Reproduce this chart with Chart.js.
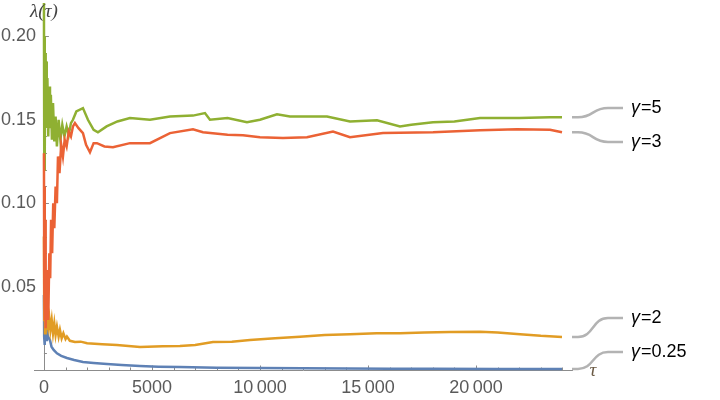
<!DOCTYPE html>
<html>
<head>
<meta charset="utf-8">
<script src="https://cdn.jsdelivr.net/npm/chart.js@4/dist/chart.umd.min.js"></script>
<style>
  html, body { margin: 0; padding: 0; background: #fff; }
  #wrap { width: 720px; height: 400px; position: relative; }
</style>
</head>
<body>
<div id="wrap"><canvas id="chart" width="720" height="400"></canvas></div>
<script>
// Series (tau, lambda)
const tauG5 = [0, 15, 30, 45, 60, 80, 100, 130, 160, 200, 240, 280, 320, 370, 420, 480, 540, 600, 680, 760, 850, 950, 1050, 1150, 1250, 1343, 1500, 1806, 2037, 2300, 2500, 2900, 3400, 3981, 4907, 5833, 6898, 7454, 7685, 8500, 9398, 10000, 10787, 11389, 12500, 13102, 14167, 15417, 16481, 17000, 18009, 19000, 20185, 22000, 23426, 23981];
const valG5 = [0.22, 0.12, 0.20, 0.13, 0.19, 0.15, 0.185, 0.145, 0.175, 0.14, 0.17, 0.145, 0.165, 0.138, 0.16, 0.137, 0.152, 0.134, 0.15, 0.138, 0.147, 0.14, 0.146, 0.141, 0.148, 0.150, 0.155, 0.157, 0.150, 0.144, 0.1425, 0.146, 0.149, 0.151, 0.150, 0.152, 0.1525, 0.154, 0.150, 0.151, 0.1485, 0.150, 0.1533, 0.152, 0.152, 0.152, 0.149, 0.1497, 0.146, 0.147, 0.1485, 0.149, 0.151, 0.151, 0.1515, 0.1515];

const tauG3 = [0, 15, 30, 45, 60, 80, 100, 130, 160, 200, 250, 290, 330, 380, 430, 480, 540, 600, 650, 720, 800, 880, 960, 1050, 1150, 1250, 1343, 1435, 1600, 1806, 1950, 2130, 2300, 2454, 2800, 3194, 3981, 4907, 5833, 6898, 7361, 8500, 9213, 10000, 11065, 12176, 13380, 14167, 15694, 18009, 20185, 21898, 23426, 23981];
const valG3 = [0.13, 0.05, 0.11, 0.03, 0.09, 0.025, 0.06, 0.035, 0.045, 0.03, 0.07, 0.055, 0.09, 0.07, 0.10, 0.085, 0.11, 0.10, 0.128, 0.118, 0.135, 0.128, 0.138, 0.134, 0.143, 0.14, 0.146, 0.148, 0.145, 0.142, 0.135, 0.1305, 0.136, 0.136, 0.134, 0.1335, 0.136, 0.136, 0.142, 0.1443, 0.1425, 0.141, 0.1407, 0.1395, 0.139, 0.1395, 0.143, 0.1395, 0.142, 0.1425, 0.1437, 0.1443, 0.144, 0.1425];

const tauG2 = [0, 15, 30, 50, 80, 110, 150, 200, 250, 300, 360, 420, 480, 540, 602, 680, 741, 820, 900, 1000, 1065, 1200, 1435, 1700, 2000, 2700, 3380, 4444, 5500, 6296, 7000, 7824, 8700, 9537, 10700, 11852, 13000, 14167, 15400, 16481, 17600, 18796, 20185, 21000, 22037, 23000, 23981];
const valG2 = [0.08, 0.03, 0.05, 0.022, 0.035, 0.024, 0.031, 0.026, 0.031, 0.024, 0.03, 0.022, 0.028, 0.021, 0.026, 0.02, 0.024, 0.019, 0.022, 0.0185, 0.02, 0.0175, 0.0168, 0.017, 0.016, 0.0155, 0.015, 0.0138, 0.0142, 0.0144, 0.015, 0.0168, 0.017, 0.018, 0.019, 0.020, 0.021, 0.0215, 0.022, 0.022, 0.0225, 0.0228, 0.023, 0.0225, 0.0215, 0.0205, 0.0198];

const tauG025 = [0, 10, 25, 45, 70, 100, 140, 190, 278, 350, 450, 602, 800, 1065, 1400, 1806, 2300, 2917, 3600, 4444, 5300, 6296, 8000, 10000, 12000, 14000, 16000, 18000, 21000, 23981];
const valG025 = [0.045, 0.02, 0.035, 0.015, 0.03, 0.018, 0.025, 0.02, 0.018, 0.014, 0.012, 0.010, 0.0085, 0.0072, 0.006, 0.0048, 0.0042, 0.0036, 0.003, 0.0024, 0.002, 0.0018, 0.0014, 0.0012, 0.001, 0.0009, 0.0008, 0.0007, 0.00065, 0.0006];

const xTicks = [0, 5000, 10000, 15000, 20000];
const xTickLabels = ["0", "5000", "10\u2009000", "15\u2009000", "20\u2009000"];
const yTicks = [0.05, 0.10, 0.15, 0.20];
const yTickLabels = ["0.05", "0.10", "0.15", "0.20"];
const seriesLabels = ["5", "3", "2", "0.25"];

function pts(t, v) {
    return t.map((x, i) => ({ x: x, y: v[i] }));
}

// Mathematica-style axes crossing at origin, plus callout labels
const axesPlugin = {
    id: "axes",
    beforeDatasetsDraw(chart) {
        const ctx = chart.ctx;
        const xs = chart.scales.x, ys = chart.scales.y;
        const x0 = xs.getPixelForValue(0), y0 = ys.getPixelForValue(0);
        ctx.save();
        ctx.strokeStyle = "#8c8c8c";
        ctx.lineWidth = 1;
        ctx.beginPath();
        ctx.moveTo(xs.left, Math.round(y0) + 0.5);
        ctx.lineTo(xs.right, Math.round(y0) + 0.5);
        ctx.moveTo(Math.round(x0) + 0.5, y0);
        ctx.lineTo(Math.round(x0) + 0.5, ys.top + 30);
        // x ticks (major 5000, minor 1000)
        for (let t = 1000; t <= 24000; t += 1000) {
            const px = Math.round(xs.getPixelForValue(t)) + 0.5;
            const len = t % 5000 === 0 ? 4.5 : 2.5;
            ctx.moveTo(px, y0);
            ctx.lineTo(px, y0 - len);
        }
        // y ticks (major 0.05, minor 0.01)
        for (let k = 1; k <= 20; k++) {
            const py = Math.round(ys.getPixelForValue(k / 100)) + 0.5;
            const len = k % 5 === 0 ? 5 : 3;
            ctx.moveTo(x0, py);
            ctx.lineTo(x0 + len, py);
        }
        ctx.stroke();

        ctx.fillStyle = "#5a5a5a";
        ctx.font = "18px 'Liberation Sans', Arial, sans-serif";
        ctx.textAlign = "center";
        ctx.textBaseline = "middle";
        xTicks.forEach((t, i) => {
            ctx.fillText(xTickLabels[i], xs.getPixelForValue(t), y0 + 18);
        });
        ctx.textAlign = "right";
        yTicks.forEach((v, i) => {
            ctx.fillText(yTickLabels[i], x0 - 8, ys.getPixelForValue(v));
        });
        ctx.restore();
    },
    afterDatasetsDraw(chart) {
        const ctx = chart.ctx;
        const xs = chart.scales.x, ys = chart.scales.y;
        ctx.save();
        // axis labels
        ctx.fillStyle = "#444";
        ctx.font = "italic 19px 'Liberation Serif', serif";
        ctx.textAlign = "center";
        ctx.textBaseline = "middle";
        ctx.fillText("\u03bb(\u03c4)", xs.getPixelForValue(0), 12);
        ctx.fillStyle = "#6b5a45";
        ctx.fillText("\u03c4", 593, ys.getPixelForValue(0) + 1);

        // callouts
        const labelY = [108, 142, 318, 352];
        const ends = [valG5, valG3, valG2, valG025].map(a => a[a.length - 1]);
        ctx.strokeStyle = "#b3b3b3";
        ctx.lineWidth = 2.5;
        ends.forEach((v, i) => {
            const ys0 = ys.getPixelForValue(v);
            const y1 = labelY[i];
            ctx.beginPath();
            ctx.moveTo(572, ys0);
            ctx.lineTo(578, ys0);
            ctx.bezierCurveTo(594, ys0, 592, y1, 608, y1);
            ctx.lineTo(623, y1);
            ctx.stroke();
        });
        ctx.fillStyle = "#000";
        ctx.textAlign = "left";
        seriesLabels.forEach((s, i) => {
            ctx.font = "italic 18px 'Liberation Sans', Arial, sans-serif";
            ctx.fillText("\u03b3", 631, labelY[i]);
            const w = ctx.measureText("\u03b3").width;
            ctx.font = "18px 'Liberation Sans', Arial, sans-serif";
            ctx.fillText("=" + s, 631 + w + 1, labelY[i]);
        });
        ctx.restore();
    }
};

function ds(label, t, v, color) {
    return {
        label: label,
        data: pts(t, v),
        borderColor: color,
        backgroundColor: color,
        borderWidth: 2.5,
        pointRadius: 0,
        tension: 0,
        fill: false
    };
}

new Chart(document.getElementById("chart"), {
    type: "line",
    data: {
        datasets: [
            ds("γ=3", tauG3, valG3, "#EB6235"),
            ds("γ=5", tauG5, valG5, "#8FB032"),
            ds("γ=2", tauG2, valG2, "#E19C24"),
            ds("γ=0.25", tauG025, valG025, "#5E81B5")
        ]
    },
    options: {
        responsive: false,
        animation: false,
        events: [],
        layout: { padding: { left: 34, right: 147, top: 3, bottom: 25 } },
        plugins: { legend: { display: false }, tooltip: { enabled: false } },
        scales: {
            x: { type: "linear", min: -460, max: 24490, display: false },
            y: { type: "linear", min: -0.003, max: 0.22, display: false }
        }
    },
    plugins: [axesPlugin]
});
</script>
</body>
</html>
